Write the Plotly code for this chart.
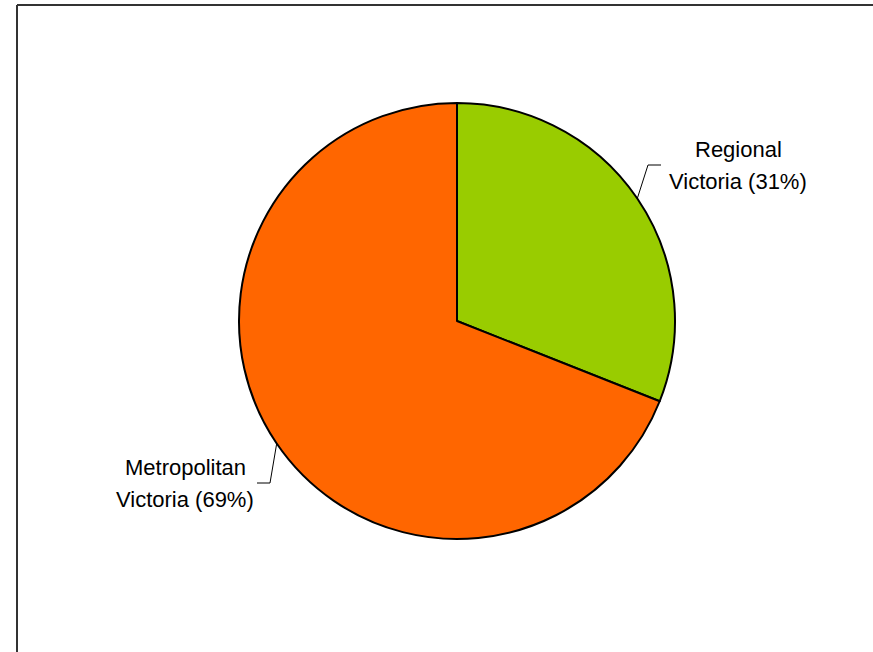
import math
import plotly.graph_objects as go

# Share of population by area
categories = ["Regional Victoria", "Metropolitan Victoria"]
shares = [31, 69]
colors = ["#99CC00", "#FF6600"]

W, H = 873, 652
CX, CY, R = 457, 321, 218  # pie centre and radius in pixels

# label layout: (text centre x, first line y, second line y, leader elbow x, leader y, leader end x)
label_layout = [
    (738, 149, 181, 648, 165, 661),
    (185, 467, 499, 270, 483, 257),
]

def px(x):
    return x / W

def py(y):
    return 1 - y / H

fig = go.Figure(
    go.Pie(
        labels=categories,
        values=shares,
        sort=False,
        direction="clockwise",
        rotation=0,
        marker=dict(colors=colors, line=dict(color="#000000", width=2)),
        textinfo="none",
        hoverinfo="label+percent",
        showlegend=False,
        domain=dict(x=[px(CX - R), px(CX + R)], y=[py(CY + R), py(CY - R)]),
    )
)

frame = dict(color="#333333", width=2)
shapes = [
    # chart frame: only the left and top edges fall inside the page
    dict(type="line", xref="paper", yref="paper", x0=px(17), y0=py(5), x1=px(17), y1=0, line=frame),
    dict(type="line", xref="paper", yref="paper", x0=px(17), y0=py(5), x1=1, y1=py(5), line=frame),
]
annotations = []
total = sum(shares)
start = 0.0
for name, val, (tx, y1, y2, ex, ey, lx) in zip(categories, shares, label_layout):
    mid = (start + val / 2) / total * 2 * math.pi
    start += val
    edge_x = CX + R * math.sin(mid)
    edge_y = CY - R * math.cos(mid)
    shapes.append(dict(type="path", xref="paper", yref="paper",
                       path=f"M {px(edge_x)},{py(edge_y)} L {px(ex)},{py(ey)} L {px(lx)},{py(ey)}",
                       line=dict(color="#000000", width=1)))
    first, second = name.split(" ", 1)
    pct = round(val / total * 100)
    for text, yy in ((first, y1), (f"{second} ({pct}%)", y2)):
        annotations.append(dict(x=px(tx), y=py(yy), xref="paper", yref="paper",
                                text=text, showarrow=False, xanchor="center", yanchor="middle",
                                font=dict(family="Liberation Sans, Arial, sans-serif", size=22, color="#000000")))

fig.update_layout(
    width=W, height=H, autosize=False,
    margin=dict(l=0, r=0, t=0, b=0),
    paper_bgcolor="#FFFFFF", plot_bgcolor="#FFFFFF",
    shapes=shapes, annotations=annotations,
)

fig.write_html("out.html")
